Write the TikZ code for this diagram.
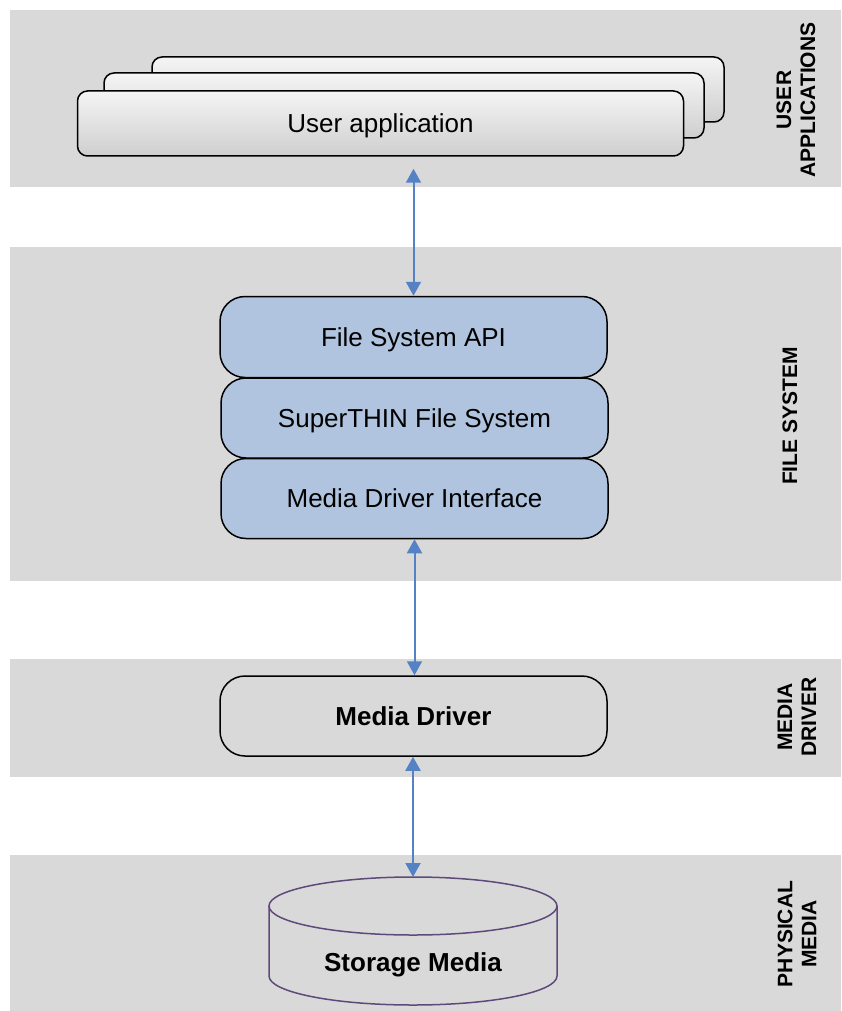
\documentclass[tikz,border=0pt]{standalone}
\usepackage{fontspec}
\setmainfont{Liberation Sans}
\usetikzlibrary{arrows.meta}
\definecolor{bandgray}{RGB}{217,217,217}
\definecolor{fsblue}{RGB}{176,196,224}
\definecolor{arrowblue}{RGB}{84,130,196}
\definecolor{cylline}{RGB}{95,73,122}
\tikzset{
  band/.style={fill=bandgray},
  boxtext/.style={text height=18.6pt, text depth=0pt, inner sep=0pt, font=\fontsize{26}{30}\selectfont},
  appbox/.style={boxtext, draw=black, line width=1.5pt, rounded corners=10pt, top color=gray!8, bottom color=gray!38},
  fsbox/.style={boxtext, draw=black, line width=1.5pt, rounded corners=25pt, fill=fsblue, minimum width=387pt,
     minimum height=80pt},
  mdbox/.style={boxtext, draw=black, line width=1.5pt, rounded corners=25pt, minimum width=387pt,
     minimum height=80pt, font=\bfseries\fontsize{26}{30}\selectfont},
  conn/.style={draw=arrowblue, line width=2pt, {Triangle[length=14pt,width=15pt]}-{Triangle[length=14pt,width=15pt]}},
  lanelabel/.style={rotate=90, align=center, font=\bfseries\fontsize{21}{24}\selectfont}
}
\begin{document}
\begin{tikzpicture}[x=1pt,y=1pt]
\useasboundingbox (0,0) rectangle (841,-1011);
% bands
\fill[band] (10,-10) rectangle (841,-187);
\fill[band] (10,-247) rectangle (841,-581);
\fill[band] (10,-659) rectangle (841,-777);
\fill[band] (10,-855) rectangle (841,-1011);
% user application stack
\node[appbox, minimum width=572pt, minimum height=65pt] (app3) at (438,-89.5) {};
\node[appbox, minimum width=600pt, minimum height=65pt] (app2) at (404,-105.5) {};
\node[appbox, minimum width=606pt, minimum height=65pt] (app1) at (380.5,-123.5) {User application};
% file system stack
\node[fsbox, minimum height=81pt] (api) at (413.5,-337) {File System API};
\node[fsbox] (thin) at (414.5,-418) {SuperTHIN File System};
\node[fsbox] (mdi) at (414.5,-498.5) {Media Driver Interface};
% media driver
\node[mdbox] (md) at (413.5,-716) {Media Driver};
% storage cylinder
\draw[cylline, line width=1.5pt] (269,-906) -- (269,-976) arc[start angle=180, end angle=360, x radius=144, y radius=29] -- (557,-906);
\draw[cylline, line width=1.5pt] (413,-906) ellipse[x radius=144, y radius=29];
\coordinate (cyltop) at (413,-877);
\node[boxtext, font=\bfseries\fontsize{26}{30}\selectfont] (storage) at (413,-962) {Storage Media};
% connectors
\draw[conn, shorten <=12pt] (api.north |- app1.south) -- (api.north);
\draw[conn] (mdi.south) -- (md.north -| mdi.south);
\draw[conn] (md.south -| cyltop) -- (cyltop);
% lane labels
\node[lanelabel] (lab1) at (796,-100) {USER\\APPLICATIONS};
\node[lanelabel] (lab2) at (790,-416) {FILE SYSTEM};
\node[lanelabel] (lab3) at (797,-717) {MEDIA\\DRIVER};
\node[lanelabel] (lab4) at (797,-934) {PHYSICAL\\MEDIA};
\end{tikzpicture}
\end{document}
